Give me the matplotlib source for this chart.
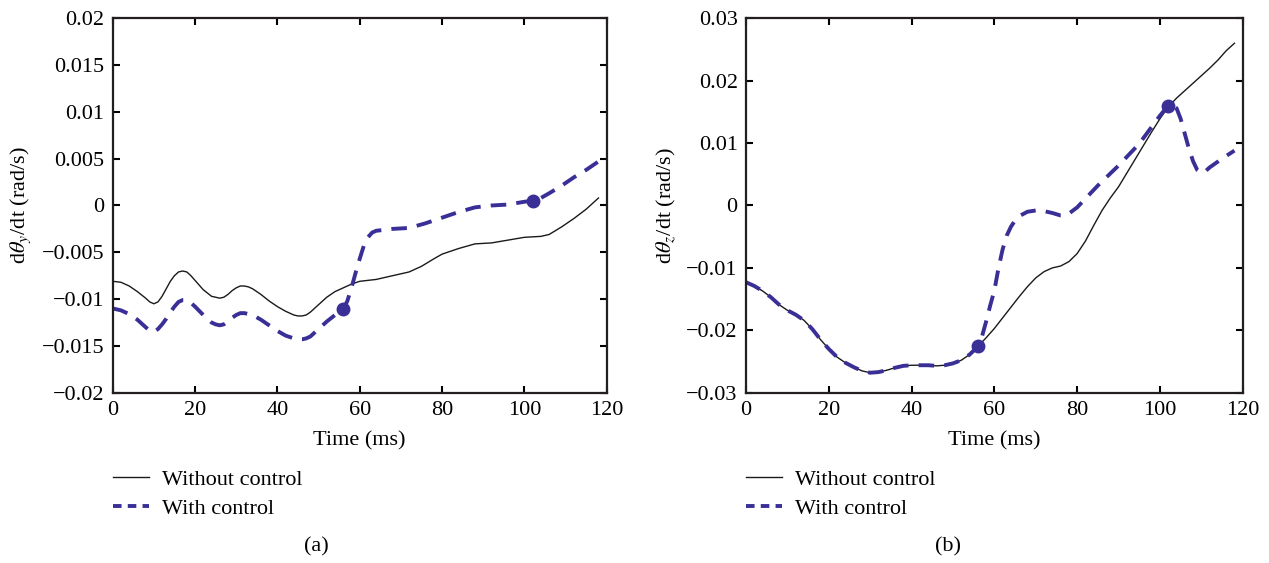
import matplotlib
matplotlib.use("Agg")
import matplotlib.pyplot as plt
from matplotlib.lines import Line2D
from matplotlib.ticker import FuncFormatter, MultipleLocator

plt.rcParams["font.family"] = ["Liberation Serif", "DejaVu Serif"]
plt.rcParams["mathtext.fontset"] = "stix"
plt.rcParams["font.size"] = 16

BLUE = "#3a2f96"

# (a) d(theta_y)/dt, without control
ya_t_off = [0, 2, 4, 6, 8, 9, 10, 11, 12, 13, 14, 15, 16, 17, 18, 19, 20, 22, 24,
            26, 27, 28, 29, 30, 31, 32, 33, 34, 36, 38, 40, 42, 44, 45, 46, 47, 48,
            50, 52, 54, 56, 58, 60, 64, 68, 72, 75, 78, 80, 84, 88, 92, 96, 100,
            104, 106, 109, 112, 115, 118]
ya_off = [-0.0081, -0.0082, -0.0086, -0.0092, -0.0099, -0.0103, -0.0105, -0.0103,
          -0.0097, -0.0089, -0.0081, -0.0075, -0.0071, -0.0070, -0.0071, -0.0075,
          -0.0080, -0.0090, -0.0097, -0.0099, -0.0098, -0.0095, -0.0091, -0.0088,
          -0.0086, -0.0086, -0.0087, -0.0089, -0.0095, -0.0102, -0.0108, -0.0113,
          -0.0117, -0.0118, -0.0118, -0.0117, -0.0114, -0.0106, -0.0098, -0.0092,
          -0.0088, -0.0084, -0.0081, -0.0079, -0.0075, -0.0071, -0.0065, -0.0057,
          -0.0052, -0.0046, -0.0041, -0.0040, -0.0037, -0.0034, -0.0033, -0.0031,
          -0.0023, -0.0014, -0.0004, 0.0008]

# (a) with control
ya_t_on = [0, 2, 4, 6, 7, 8, 9, 10, 11, 12, 13, 14, 15, 16, 17, 18, 19, 20, 22, 24,
           25, 26, 27, 28, 29, 30, 31, 32, 33, 34, 36, 38, 40, 42, 44, 45, 46, 47,
           48, 50, 52, 54, 56, 57, 58, 59, 60, 61, 62, 63, 64, 66, 68, 72, 76, 80,
           84, 88, 92, 96, 100, 102, 104, 106, 109, 112, 115, 118]
ya_on = [-0.0110, -0.0112, -0.0116, -0.0122, -0.0126, -0.0130, -0.0134, -0.0135,
         -0.0132, -0.0127, -0.0121, -0.0114, -0.0108, -0.0103, -0.0101, -0.0101,
         -0.0104, -0.0108, -0.0117, -0.0125, -0.0127, -0.0128, -0.0127, -0.0124,
         -0.0120, -0.0117, -0.0115, -0.0115, -0.0116, -0.0117, -0.0122, -0.0128,
         -0.0134, -0.0139, -0.0142, -0.0143, -0.0143, -0.0142, -0.0140, -0.0132,
         -0.0124, -0.0117, -0.0111, -0.0102, -0.0088, -0.0072, -0.0057, -0.0043,
         -0.0034, -0.0029, -0.0027, -0.0026, -0.0025, -0.0024, -0.0019, -0.0013,
         -0.0007, -0.0002, 0.0000, 0.0001, 0.0004, 0.0005, 0.0008, 0.0013, 0.0021,
         0.0030, 0.0038, 0.0047]
ya_switch_t = [56, 102]
ya_switch = [-0.0111, 0.0005]

# (b) d(theta_z)/dt, without control
zb_t_off = [0, 2, 4, 6, 8, 10, 12, 14, 16, 18, 20, 22, 24, 26, 28, 30, 32, 34, 36,
            38, 40, 42, 44, 46, 48, 50, 52, 54, 56, 58, 60, 62, 64, 66, 68, 70, 72,
            74, 76, 78, 80, 82, 84, 86, 88, 90, 92, 94, 96, 98, 100, 102, 104, 106,
            108, 110, 112, 114, 116, 118]
zb_off = [-0.0123, -0.0129, -0.0137, -0.0147, -0.0159, -0.0168, -0.0175, -0.0184,
          -0.0198, -0.0215, -0.0230, -0.0243, -0.0252, -0.0259, -0.0265, -0.0268,
          -0.0267, -0.0264, -0.0260, -0.0257, -0.0256, -0.0256, -0.0256, -0.0257,
          -0.0256, -0.0253, -0.0248, -0.0239, -0.0226, -0.0212, -0.0197, -0.0180,
          -0.0163, -0.0146, -0.0130, -0.0116, -0.0106, -0.0100, -0.0097, -0.0090,
          -0.0077, -0.0057, -0.0032, -0.0008, 0.0012, 0.0030, 0.0052, 0.0074,
          0.0096, 0.0118, 0.0139, 0.0158, 0.0172, 0.0184, 0.0196, 0.0208, 0.0220,
          0.0233, 0.0248, 0.0260]

# (b) with control
zb_t_on = [0, 2, 4, 6, 8, 10, 12, 14, 16, 18, 20, 22, 24, 26, 28, 30, 32, 34, 36,
           38, 40, 42, 44, 46, 48, 50, 52, 54, 56, 57, 58, 59, 60, 61, 62, 63, 64,
           65, 66, 68, 70, 72, 74, 76, 77, 78, 80, 82, 85, 90, 95, 100, 102, 103,
           104, 105, 106, 107, 108, 109, 110, 111, 112, 115, 118]
zb_on = [-0.0123, -0.0129, -0.0137, -0.0147, -0.0159, -0.0168, -0.0175, -0.0184,
         -0.0198, -0.0215, -0.0230, -0.0243, -0.0252, -0.0259, -0.0265, -0.0268,
         -0.0267, -0.0264, -0.0260, -0.0257, -0.0256, -0.0256, -0.0256, -0.0257,
         -0.0256, -0.0253, -0.0248, -0.0239, -0.0226, -0.0210, -0.0186, -0.0160,
         -0.0136, -0.0100, -0.0070, -0.0048, -0.0034, -0.0024, -0.0017, -0.0010,
         -0.0008, -0.0009, -0.0012, -0.0016, -0.0016, -0.0013, -0.0003, 0.0011,
         0.0032, 0.0064, 0.0099, 0.0144, 0.0160, 0.0161, 0.0156, 0.0139, 0.0115,
         0.0091, 0.0071, 0.0057, 0.0052, 0.0055, 0.0061, 0.0075, 0.0088]
zb_switch_t = [56, 102]
zb_switch = [-0.0225, 0.0160]

X_TICKS = [0, 20, 40, 60, 80, 100, 120]


def fmt(v, _pos):
    s = f"{v:g}"
    if abs(v) < 1e-12:
        s = "0"
    return s.replace("-", "\u2212")


def style_axis(ax, ylim, ystep, ylabel):
    ax.set_xlim(0, 120)
    ax.set_ylim(*ylim)
    ax.set_xticks(X_TICKS)
    ax.yaxis.set_major_locator(MultipleLocator(ystep))
    ax.yaxis.set_major_formatter(FuncFormatter(fmt))
    ax.tick_params(direction="in", top=True, right=True, length=5, width=1.5,
                   labelsize=16, pad=6)
    for sp in ax.spines.values():
        sp.set_linewidth(1.6)
        sp.set_color("#231f20")
    ax.set_xlabel("Time (ms)", fontsize=16, labelpad=8)
    ax.set_ylabel(ylabel, fontsize=16, labelpad=6)


def draw_panel(ax, t_off, off, t_on, on, sw_t, sw):
    ax.plot(t_off, off, color="#1a1a1a", lw=1.0)
    ax.plot(t_on, on, color=BLUE, lw=2.8, dashes=(4.0, 2.6))
    ax.plot(sw_t, sw, "o", color=BLUE, ms=9, zorder=5)


fig = plt.figure(figsize=(12.69, 5.63), dpi=100)
ax1 = fig.add_axes([0.0888, 0.3025, 0.3893, 0.665])
ax2 = fig.add_axes([0.5879, 0.3025, 0.3914, 0.665])

draw_panel(ax1, ya_t_off, ya_off, ya_t_on, ya_on, ya_switch_t, ya_switch)
style_axis(ax1, (-0.02, 0.02), 0.005, r"d$\theta_y$/dt (rad/s)")

draw_panel(ax2, zb_t_off, zb_off, zb_t_on, zb_on, zb_switch_t, zb_switch)
style_axis(ax2, (-0.03, 0.03), 0.01, r"d$\theta_z$/dt (rad/s)")

handles = [Line2D([], [], color="#1a1a1a", lw=1.0),
           Line2D([], [], color=BLUE, lw=2.8, dashes=(2.2, 1.6))]
labels = ["Without control", "With control"]
for x0 in (113 / 1269, 746 / 1269):
    fig.legend(handles, labels, loc="upper left", bbox_to_anchor=(x0, 1 - 469 / 563),
               frameon=False, fontsize=16, handlelength=1.6, handletextpad=0.6,
               labelspacing=0.38, borderpad=0, borderaxespad=0)

fig.text(316 / 1269, 1 - 547 / 563, "(a)", ha="center", va="center", fontsize=16)
fig.text(948 / 1269, 1 - 547 / 563, "(b)", ha="center", va="center", fontsize=16)

fig.savefig("out.png", dpi=100)
